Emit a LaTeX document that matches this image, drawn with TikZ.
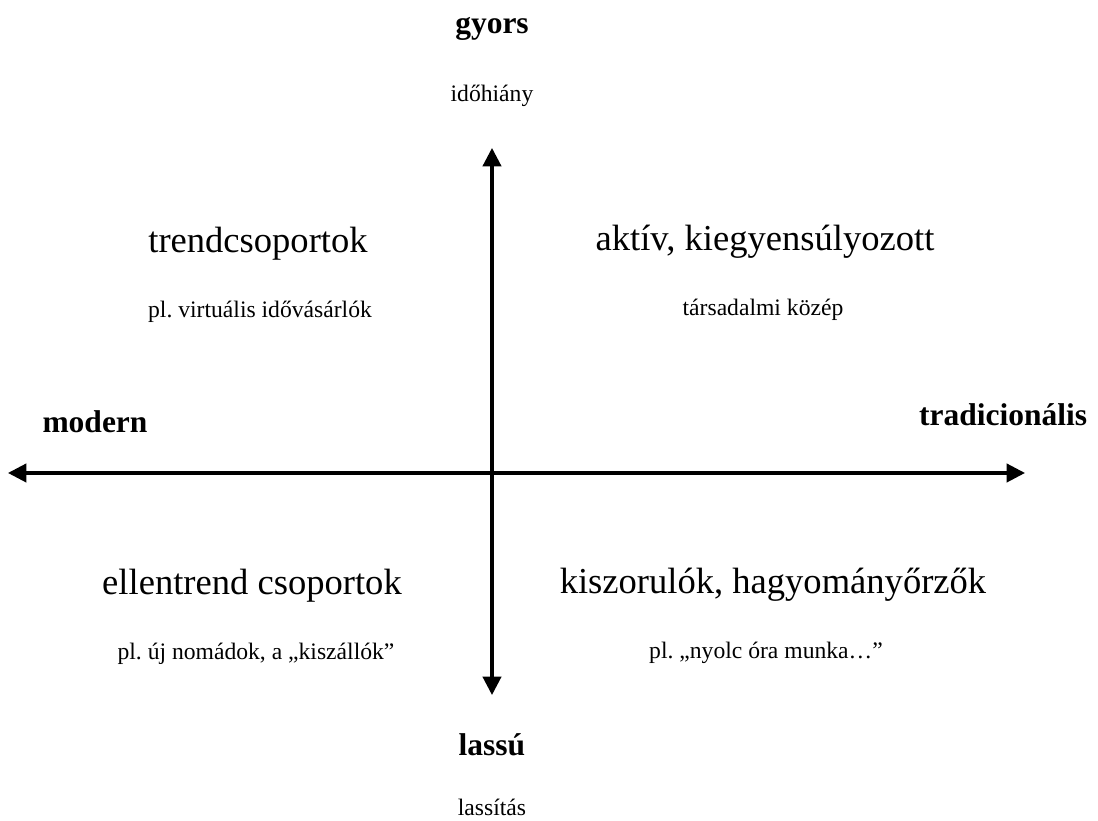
\documentclass[tikz,border=0pt]{standalone}
\usepackage{fontspec}
\setmainfont{Liberation Serif}
\usetikzlibrary{arrows.meta}
\frenchspacing

\tikzset{
    axis/.style={line width=1.1pt, {Triangle[length=2.3mm,width=2.3mm]}-{Triangle[length=2.3mm,width=2.3mm]}},
    pole/.style={font=\fontsize{11.2}{13}\bfseries\selectfont},
    group/.style={font=\fontsize{13}{15}\selectfont},
    note/.style={font=\fontsize{8.4}{10}\selectfont},
}

\begin{document}
\begin{tikzpicture}[x=0.0125cm, y=-0.0125cm]
    \useasboundingbox (0,0) rectangle (1098,821);

    % Axis end points
    \coordinate (top) at (492,148);
    \coordinate (bottom) at (492,695);
    \coordinate (left) at (8,473);
    \coordinate (right) at (1025,473);

    % Axes
    \draw[axis] (bottom) -- (top);
    \draw[axis] (left) -- (right);

    % Vertical poles
    \node[pole] (fast) at (492,29) {gyors};
    \node[note] (fastnote) at (492,96) {időhiány};
    \node[pole] (slow) at (492,745) {lassú};
    \node[note] (slownote) at (492,807) {lassítás};

    % Horizontal poles
    \node[pole] (modern) at (95,422) {modern};
    \node[pole, anchor=east] (trad) at (1097,415) {tradicionális};

    % Upper left quadrant
    \node[group] (trend) at (258,244) {trendcsoportok};
    \node[note] (trendnote) at (260,312) {pl. virtuális idővásárlók};

    % Upper right quadrant
    \node[group] (active) at (765,242) {aktív, kiegyensúlyozott};
    \node[note] (activenote) at (763,310) {társadalmi közép};

    % Lower left quadrant
    \node[group] (counter) at (252,586) {ellentrend csoportok};
    \node[note] (counternote) at (256,654) {pl. új nomádok, a „kiszállók”};

    % Lower right quadrant
    \node[group] (keeper) at (773,585) {kiszorulók, hagyományőrzők};
    \node[note] (keepernote) at (766,653) {pl. „nyolc óra munka…”};

\end{tikzpicture}
\end{document}
